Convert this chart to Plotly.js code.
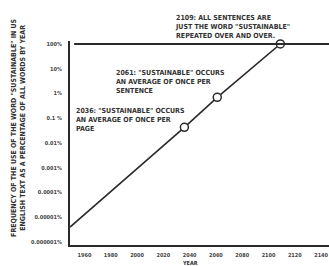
<!DOCTYPE html>
<html>
<head>
<meta charset="utf-8">
<script src="https://cdn.plot.ly/plotly-3.0.1.min.js"></script>
<style>html,body{margin:0;padding:0;background:#fff;}#chart{width:329px;height:266px;}</style>
</head>
<body>
<div id="chart"></div>
<script>
// Data
var years = [1949, 2036, 2061, 2109, 2146];
var freqPct = [0.000004, 0.043, 0.7, 100, 100];
var eventYears = [2036, 2061, 2109];
var eventFreqPct = [0.043, 0.7, 100];
var eventLabels = [
  '2036: "SUSTAINABLE" OCCURS<br>AN AVERAGE OF ONCE PER<br>PAGE',
  '2061: "SUSTAINABLE" OCCURS<br>AN AVERAGE OF ONCE PER<br>SENTENCE',
  '2109: ALL SENTENCES ARE<br>JUST THE WORD "SUSTAINABLE"<br>REPEATED OVER AND OVER.'
];
var xTickVals = [1960, 1980, 2000, 2020, 2040, 2060, 2080, 2100, 2120, 2140];
var xTickText = ['1960', '1980', '2000', '2020', '2040', '2060', '2080', '2100', '2120', '2140'];
var yTickVals = [100, 10, 1, 0.1, 0.01, 0.001, 0.0001, 0.00001, 0.000001];
var yTickText = ['100%', '10%', '1%', '0.1 %', '0.01%', '0.001%', '0.0001%', '0.00001%', '0.000001%'];
var ceilingPct = 100;

var ink = '#2a2a2a';
var fontFam = '"DejaVu Sans Condensed", "DejaVu Sans", sans-serif';

var traces = [
  {x: years, y: freqPct, mode: 'lines', line: {color: ink, width: 1.6}, hoverinfo: 'skip', showlegend: false, cliponaxis: false},
  {x: eventYears, y: eventFreqPct, mode: 'markers', marker: {size: 8, color: '#fff', line: {color: ink, width: 1.5}}, hoverinfo: 'skip', showlegend: false, cliponaxis: false}
];

var annPos = [
  {x: 0.015, y: 0.685},
  {x: 0.17, y: 0.872},
  {x: 0.398, y: 1.14}
];
var annotations = eventLabels.map(function(t, i){
  return {text: t, xref: 'paper', yref: 'paper', x: annPos[i].x, y: annPos[i].y,
    xanchor: 'left', yanchor: 'top', align: 'left', showarrow: false,
    font: {family: fontFam, size: 7, color: '#333', weight: 'bold'}};
});
annotations.push({text: 'FREQUENCY OF THE USE OF THE WORD "SUSTAINABLE" IN US<br>ENGLISH TEXT AS A PERCENTAGE OF ALL WORDS BY YEAR',
  xref: 'paper', yref: 'paper', x: -0.2, y: 0.575, xanchor: 'center', yanchor: 'middle', textangle: -90,
  showarrow: false, align: 'center', font: {family: fontFam, size: 7, color: '#333', weight: 'bold'}});
annotations.push({text: 'YEAR', xref: 'paper', yref: 'paper', x: 0.465, y: -0.088, xanchor: 'center', yanchor: 'middle',
  showarrow: false, font: {family: fontFam, size: 5.5, color: '#333', weight: 'bold'}});

var layout = {
  width: 329, height: 266,
  margin: {l: 70, r: 0, t: 41, b: 21, pad: 0},
  paper_bgcolor: '#fff', plot_bgcolor: '#fff',
  showlegend: false,
  xaxis: {range: [1949, 2146], tickvals: xTickVals, ticktext: xTickText, showgrid: false, zeroline: false,
    showline: true, linecolor: ink, linewidth: 2, ticks: '', ticklabelstandoff: 3,
    tickfont: {family: fontFam, size: 5.5, color: '#444', weight: 'bold'}},
  yaxis: {type: 'log', range: [-6.12, 2.12], tickvals: yTickVals, ticktext: yTickText, showgrid: false, zeroline: false,
    showline: true, linecolor: ink, linewidth: 2, ticks: '', ticklabelstandoff: 5,
    tickfont: {family: fontFam, size: 5.5, color: '#444', weight: 'bold'}},
  shapes: [{type: 'line', xref: 'paper', yref: 'y', x0: 0.016, x1: 1, y0: ceilingPct, y1: ceilingPct,
    line: {color: ink, width: 2}}],
  annotations: annotations
};

Plotly.newPlot('chart', traces, layout, {staticPlot: true, displayModeBar: false});
</script>
</body>
</html>
